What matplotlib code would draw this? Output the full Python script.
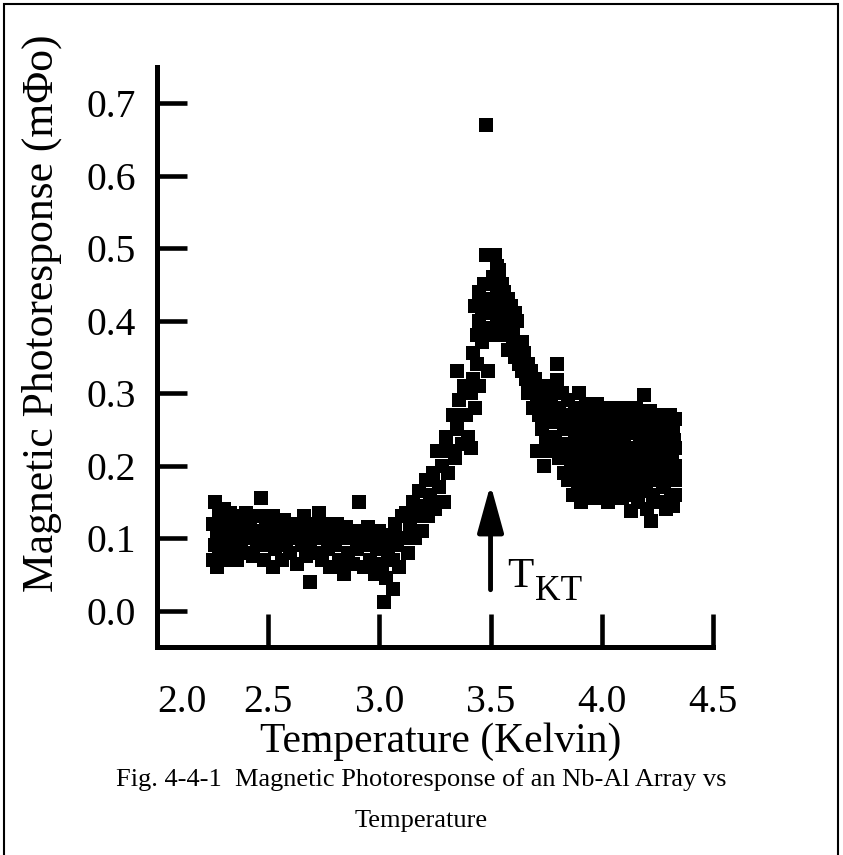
import matplotlib
matplotlib.use("Agg")
import matplotlib.pyplot as plt
from matplotlib.patches import Rectangle

plt.rcParams["font.family"] = "Liberation Serif"

# =========================
# Data (T in Kelvin, response in mPhi0)
# =========================
temp_low = [2.25, 2.25, 2.26, 2.26, 2.27, 2.27, 2.28, 2.28, 2.29, 2.30, 2.30, 2.31,
            2.32, 2.33, 2.33, 2.34, 2.35, 2.36, 2.36, 2.37, 2.38, 2.39, 2.40, 2.40,
            2.41, 2.42, 2.43, 2.44, 2.45, 2.46, 2.47, 2.47, 2.48, 2.49, 2.50, 2.51,
            2.52, 2.52, 2.53, 2.54, 2.55, 2.56, 2.57, 2.58, 2.59, 2.60, 2.61, 2.62,
            2.63, 2.64, 2.65, 2.66, 2.67, 2.68, 2.69, 2.69, 2.70, 2.71, 2.72, 2.73,
            2.74, 2.75, 2.76, 2.77, 2.78, 2.79, 2.80, 2.81, 2.82, 2.83, 2.84, 2.85,
            2.86, 2.87, 2.88, 2.89, 2.90, 2.91, 2.92, 2.93, 2.94, 2.95, 2.96, 2.97,
            2.98, 2.99, 3.00, 3.01, 3.02, 3.02, 3.03, 3.04, 3.05, 3.06, 3.06, 3.07,
            3.08, 3.09, 3.10]
resp_low = [0.12, 0.07, 0.15, 0.09, 0.11, 0.06, 0.13, 0.08, 0.10, 0.14, 0.07, 0.12,
            0.09, 0.135, 0.11, 0.08, 0.12, 0.10, 0.07, 0.13, 0.09, 0.115, 0.08, 0.135,
            0.10, 0.12, 0.075, 0.11, 0.09, 0.13, 0.155, 0.10, 0.07, 0.12, 0.09, 0.11,
            0.06, 0.13, 0.085, 0.115, 0.10, 0.07, 0.125, 0.09, 0.11, 0.08, 0.12, 0.10,
            0.065, 0.115, 0.09, 0.13, 0.075, 0.11, 0.04, 0.095, 0.12, 0.08, 0.105, 0.135,
            0.07, 0.10, 0.12, 0.085, 0.06, 0.11, 0.09, 0.12, 0.07, 0.10, 0.05, 0.115,
            0.08, 0.10, 0.065, 0.11, 0.085, 0.15, 0.10, 0.06, 0.09, 0.115, 0.07, 0.10,
            0.05, 0.085, 0.11, 0.065, 0.012, 0.095, 0.045, 0.08, 0.105, 0.03, 0.07, 0.12,
            0.09, 0.06, 0.13]

temp_rise = [3.11, 3.12, 3.13, 3.14, 3.15, 3.16, 3.17, 3.18, 3.19, 3.20, 3.21, 3.22,
             3.23, 3.24, 3.25, 3.26, 3.27, 3.28, 3.29, 3.30, 3.31, 3.32, 3.33, 3.34,
             3.35, 3.35, 3.36, 3.37, 3.38, 3.39, 3.40, 3.41, 3.41, 3.42, 3.42, 3.43,
             3.43, 3.44, 3.44, 3.45, 3.45, 3.45, 3.46, 3.46, 3.46]
resp_rise = [0.10, 0.135, 0.08, 0.12, 0.15, 0.10, 0.13, 0.165, 0.11, 0.145, 0.18, 0.13,
             0.16, 0.19, 0.14, 0.22, 0.17, 0.20, 0.15, 0.24, 0.19, 0.22, 0.27, 0.21,
             0.33, 0.25, 0.29, 0.23, 0.31, 0.27, 0.24, 0.225, 0.30, 0.356, 0.32, 0.28,
             0.42, 0.38, 0.34, 0.40, 0.31, 0.44, 0.43, 0.37, 0.41]

temp_peak = [3.47, 3.47, 3.47, 3.48, 3.48, 3.48, 3.49, 3.49, 3.49, 3.50, 3.50, 3.51,
             3.51, 3.51, 3.52, 3.52, 3.53, 3.53, 3.53, 3.54, 3.54, 3.55, 3.55, 3.55,
             3.56, 3.56, 3.56, 3.57, 3.57, 3.58, 3.58, 3.58, 3.59, 3.59, 3.60, 3.60,
             3.61, 3.61, 3.62, 3.62, 3.63, 3.64, 3.64, 3.65, 3.66,
             3.67, 3.67, 3.68, 3.69, 3.69, 3.70, 3.71, 3.71, 3.72, 3.72, 3.73, 3.74,
             3.74, 3.75, 3.75, 3.76, 3.76, 3.77, 3.77, 3.78, 3.79, 3.79, 3.80, 3.80,
             3.80, 3.81, 3.81, 3.82, 3.82, 3.83, 3.83, 3.84, 3.84, 3.85, 3.85]
resp_peak = [0.41, 0.45, 0.38, 0.49, 0.67, 0.39, 0.33, 0.43, 0.45, 0.49, 0.41, 0.46,
             0.38, 0.43, 0.49, 0.42, 0.475, 0.40, 0.44, 0.44, 0.47, 0.42, 0.39, 0.45,
             0.44, 0.41, 0.385, 0.43, 0.38, 0.40, 0.36, 0.43, 0.42, 0.39, 0.37, 0.39,
             0.35, 0.41, 0.40, 0.36, 0.34, 0.37, 0.33, 0.355, 0.32,
             0.34, 0.30, 0.33, 0.31, 0.28, 0.32, 0.22, 0.29, 0.27, 0.31, 0.25, 0.20,
             0.30, 0.28, 0.24, 0.31, 0.26, 0.22, 0.29, 0.27, 0.24, 0.31, 0.34, 0.318,
             0.26, 0.21, 0.28, 0.23, 0.30, 0.25, 0.19, 0.27, 0.22, 0.29, 0.18]

temp_high = [3.86, 3.865, 3.87, 3.875, 3.88, 3.885, 3.89, 3.895, 3.90, 3.90, 3.905, 3.91,
             3.915, 3.92, 3.925, 3.93, 3.935, 3.94, 3.945, 3.95, 3.955, 3.96, 3.965, 3.97,
             3.975, 3.98, 3.985, 3.99, 3.995, 4.00, 4.005, 4.01, 4.015, 4.02, 4.025, 4.03,
             4.035, 4.04, 4.045, 4.05, 4.055, 4.06, 4.065, 4.07, 4.075, 4.08, 4.085, 4.09,
             4.095, 4.10, 4.105, 4.11, 4.115, 4.12, 4.125, 4.13, 4.13, 4.135, 4.14, 4.145,
             4.15, 4.155, 4.16, 4.165, 4.17, 4.175, 4.18, 4.185, 4.19, 4.19, 4.195, 4.20,
             4.205, 4.21, 4.215, 4.22, 4.22, 4.225, 4.23, 4.235, 4.24, 4.245, 4.25, 4.255,
             4.26, 4.265, 4.27, 4.275, 4.28, 4.285, 4.29, 4.295, 4.30, 4.305, 4.31, 4.315,
             4.32, 4.32, 4.325, 4.33, 4.33, 4.33,
             3.87, 3.88, 3.89, 3.91, 3.92, 3.93, 3.94, 3.95, 3.96, 3.97, 3.98, 3.99,
             4.00, 4.01, 4.02, 4.03, 4.04, 4.05, 4.06, 4.07, 4.08, 4.09, 4.10, 4.11,
             4.12, 4.14, 4.15, 4.16, 4.17, 4.18, 4.19, 4.20, 4.21, 4.23, 4.24, 4.25,
             4.26, 4.27, 4.28, 4.29, 4.30, 4.31, 4.32, 4.33, 4.33]
resp_high = [0.20, 0.26, 0.16, 0.23, 0.28, 0.19, 0.25, 0.17, 0.30, 0.22, 0.15, 0.27,
             0.20, 0.24, 0.165, 0.285, 0.21, 0.18, 0.26, 0.23, 0.155, 0.275, 0.20, 0.245,
             0.17, 0.285, 0.22, 0.19, 0.26, 0.155, 0.235, 0.28, 0.205, 0.175, 0.25, 0.15,
             0.27, 0.215, 0.19, 0.28, 0.24, 0.165, 0.225, 0.275, 0.185, 0.25, 0.21, 0.155,
             0.27, 0.235, 0.18, 0.28, 0.20, 0.255, 0.16, 0.137, 0.225, 0.27, 0.19, 0.245,
             0.17, 0.28, 0.215, 0.15, 0.26, 0.20, 0.235, 0.165, 0.298, 0.27, 0.185, 0.25,
             0.14, 0.22, 0.275, 0.124, 0.195, 0.24, 0.16, 0.265, 0.21, 0.18, 0.27, 0.23,
             0.15, 0.255, 0.195, 0.17, 0.265, 0.22, 0.14, 0.245, 0.185, 0.27, 0.16, 0.21,
             0.255, 0.145, 0.235, 0.18, 0.265, 0.20,
             0.21, 0.245, 0.18, 0.225, 0.19, 0.25, 0.215, 0.265, 0.185, 0.21, 0.165, 0.24,
             0.20, 0.255, 0.22, 0.185, 0.25, 0.17, 0.26, 0.205, 0.225, 0.19, 0.26, 0.215,
             0.175, 0.225, 0.255, 0.185, 0.23, 0.27, 0.21, 0.175, 0.255, 0.22, 0.245, 0.19,
             0.225, 0.245, 0.175, 0.21, 0.235, 0.255, 0.19, 0.225, 0.16]

temperature = temp_low + temp_rise + temp_peak + temp_high
response = resp_low + resp_rise + resp_peak + resp_high

x_ticks = [2.0, 2.5, 3.0, 3.5, 4.0, 4.5]
y_ticks = [0.0, 0.1, 0.2, 0.3, 0.4, 0.5, 0.6, 0.7]
t_kt = 3.5

# =========================
# Figure
# =========================
fig = plt.figure(figsize=(8.43, 8.55), dpi=100)
ax = fig.add_axes([0.1862, 0.2433, 0.6595, 0.6784])

ax.plot(temperature, response, linestyle="none", marker="s", markersize=9.8,
        markeredgewidth=0, color="black")

ax.set_xlim(2.0, 4.5)
ax.set_ylim(-0.05, 0.75)
ax.set_xticks(x_ticks)
ax.set_yticks(y_ticks)
ax.set_xticklabels([f"{t:.1f}" for t in x_ticks])
ax.set_yticklabels([f"{v:.1f}" for v in y_ticks])
# first x label sits just right of the y axis in the original
ax.get_xticklabels()[0].set_horizontalalignment("left")

for side in ["top", "right"]:
    ax.spines[side].set_visible(False)
for side in ["left", "bottom"]:
    ax.spines[side].set_linewidth(3.6)

ax.tick_params(axis="both", direction="in", width=3.3, labelsize=28.5)
ax.tick_params(axis="x", length=24, pad=27)
ax.tick_params(axis="y", length=21.5, pad=15)

ax.set_xlabel("Temperature (Kelvin)", fontsize=30, va="center")
ax.xaxis.set_label_coords(0.511, -0.164)
ax.set_ylabel("Magnetic Photoresponse (m\u03A6o)", fontsize=31.4, va="center")
ax.yaxis.set_label_coords(-0.207, 0.576)

# arrow marking T_KT
ax.annotate("", xy=(t_kt, 0.174), xytext=(t_kt, 0.029),
            arrowprops=dict(arrowstyle="-|>,head_length=1.45,head_width=0.4",
                            lw=3.5, color="black", shrinkA=0, shrinkB=0,
                            mutation_scale=20))
ax.text(3.575, 0.033, "T", fontsize=31, va="baseline", ha="left")
ax.text(3.698, 0.015, "KT", fontsize=25.5, va="baseline", ha="left")

# caption
fig.text(0.4994, 1 - 780 / 855, "Fig. 4-4-1  Magnetic Photoresponse of an Nb-Al Array vs",
         ha="center", va="center", fontsize=19)
fig.text(0.4994, 1 - 821 / 855, "Temperature", ha="center", va="center", fontsize=19)

# scan border
fig.add_artist(Rectangle((4 / 843, -0.05), (838 - 4) / 843, 1.05 - 4 / 855,
                         transform=fig.transFigure, fill=False, lw=1.5,
                         edgecolor="black"))

fig.savefig("out.png", dpi=100)
